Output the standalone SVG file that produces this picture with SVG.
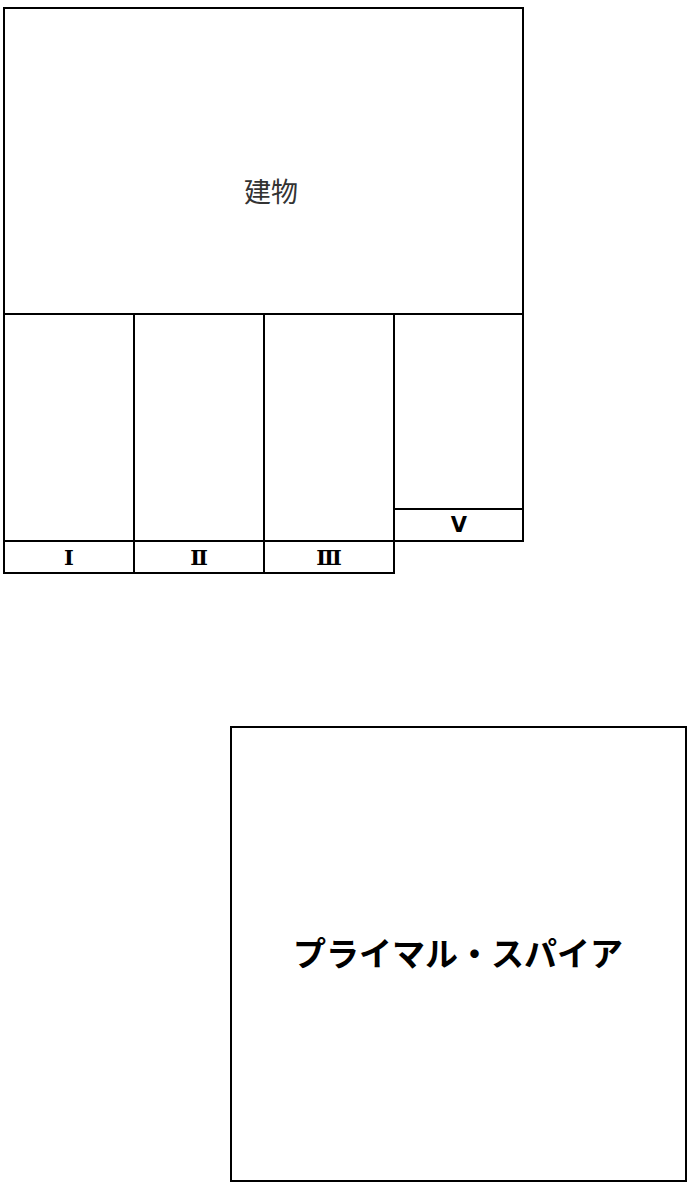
<svg xmlns="http://www.w3.org/2000/svg" width="691" height="1198" viewBox="0 0 691 1198">
<style>
.box{fill:#fff;stroke:#000;stroke-width:2}
.lbl{font-family:"DejaVu Sans","Noto Sans CJK JP",sans-serif;font-weight:bold;font-size:21px;fill:#000;text-anchor:middle;dominant-baseline:central}
.rom{font-family:"DejaVu Serif","Liberation Serif",serif;font-weight:bold;font-size:21px;fill:#000;text-anchor:middle;dominant-baseline:central}
.title{font-family:"Noto Sans CJK JP",sans-serif;font-size:27px;fill:#333;text-anchor:middle;dominant-baseline:central}
.big{font-family:"Noto Sans CJK JP",sans-serif;font-weight:bold;font-size:33px;fill:#000;text-anchor:middle;dominant-baseline:central}
</style>
<rect width="691" height="1198" fill="#fff"/>
<g id="building">
<rect class="box" x="4" y="8" width="519" height="306"/>
<text class="title" x="271" y="190">建物</text>
</g>
<g id="col1">
<rect class="box" x="4" y="314" width="130" height="227"/>
<rect class="box" x="4" y="541" width="130" height="32"/>
<text class="rom" x="69" y="557">Ⅰ</text>
</g>
<g id="col2">
<rect class="box" x="134" y="314" width="130" height="227"/>
<rect class="box" x="134" y="541" width="130" height="32"/>
<text class="rom" x="199" y="557">Ⅱ</text>
</g>
<g id="col3">
<rect class="box" x="264" y="314" width="130" height="227"/>
<rect class="box" x="264" y="541" width="130" height="32"/>
<text class="rom" x="329" y="557">Ⅲ</text>
</g>
<g id="col5">
<rect class="box" x="394" y="314" width="129" height="195"/>
<rect class="box" x="394" y="509" width="129" height="32"/>
<text class="lbl" x="459" y="525">V</text>
</g>
<g id="spire">
<rect class="box" x="231" y="727" width="455" height="454"/>
<text class="big" x="458" y="952">プライマル・スパイア</text>
</g>
<g id="connectors"></g>
</svg>
